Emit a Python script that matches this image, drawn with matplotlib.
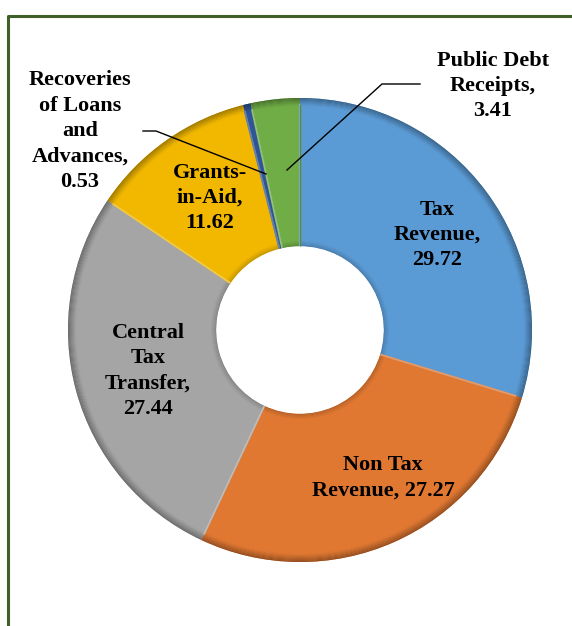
import matplotlib.pyplot as plt
from matplotlib.patches import Wedge
import numpy as np

labels = ["Tax\nRevenue,\n29.72", "Non Tax\nRevenue, 27.27", "Central\nTax\nTransfer,\n27.44",
          "Grants-\nin-Aid,\n11.62", "Recoveries\nof Loans\nand\nAdvances,\n0.53",
          "Public Debt\nReceipts,\n3.41"]
values = [29.72, 27.27, 27.44, 11.62, 0.53, 3.41]
colors = ["#5b9bd5", "#e07832", "#a5a5a5", "#f2b800", "#2f5597", "#70ad47"]

W, H = 572, 626
fig = plt.figure(figsize=(W / 100, H / 100), dpi=100)
ax = fig.add_axes([0, 0, 1, 1])

def py(y):
    # pixel row (top-down) to axes y
    return H - y

cx, cy, R = 300, py(330), 232
hole = 84

wedges, _ = ax.pie(values, radius=R, center=(cx, cy), startangle=90, counterclock=False,
                   colors=colors, wedgeprops=dict(width=R - hole, linewidth=0))

def shade(c, f):
    c = np.array(plt.matplotlib.colors.to_rgb(c))
    if f > 1:
        return tuple(c + (1 - c) * (f - 1))
    return tuple(np.clip(c * f, 0, 1))

# soft bevel: darker towards the outer rim, slight shade at the hole, light seams
for w, c in zip(wedges, colors):
    t1, t2 = w.theta1, w.theta2
    for k in range(8):
        f = 0.66 + 0.045 * k
        ax.add_patch(Wedge((cx, cy), R - k, t1, t2, width=1.2, color=shade(c, f), lw=0))
    for k in range(5):
        f = 0.82 + 0.035 * k
        ax.add_patch(Wedge((cx, cy), hole + 1 + k, t1, t2, width=1.2, color=shade(c, f), lw=0))
    a1, a2 = np.deg2rad(t1), np.deg2rad(t2)
    ax.plot([cx + hole * np.cos(a2), cx + (R - 6) * np.cos(a2)],
            [cy + hole * np.sin(a2), cy + (R - 6) * np.sin(a2)],
            color=shade(c, 1.25), lw=1.4, solid_capstyle="butt")
    ax.plot([cx + hole * np.cos(a1), cx + (R - 6) * np.cos(a1)],
            [cy + hole * np.sin(a1), cy + (R - 6) * np.sin(a1)],
            color=shade(c, 0.8), lw=1.0, solid_capstyle="butt")

font = dict(family="Liberation Serif", weight="bold", size=16, ha="center", va="center",
            linespacing=1.36)
pos = [(437, 235), (383, 478), (148, 371), (210, 198), (80, 131), (493, 86)]
for lab, (x, y) in zip(labels, pos):
    ax.text(x, py(y), lab, **font)

# leader lines for the two thin slices
ax.plot([420, 382, 287], [py(84), py(84), py(170)], color="black", lw=1)
ax.plot([143, 156, 266], [py(131), py(131), py(174)], color="black", lw=1)

# frame of the chart area
ax.plot([8, 8, W + 5], [-5, py(16), py(16)], color="#3f6128", lw=2.2)

ax.set_xlim(0, W)
ax.set_ylim(0, H)
ax.set_aspect("equal")
ax.axis("off")
fig.savefig("out.png", dpi=100)
